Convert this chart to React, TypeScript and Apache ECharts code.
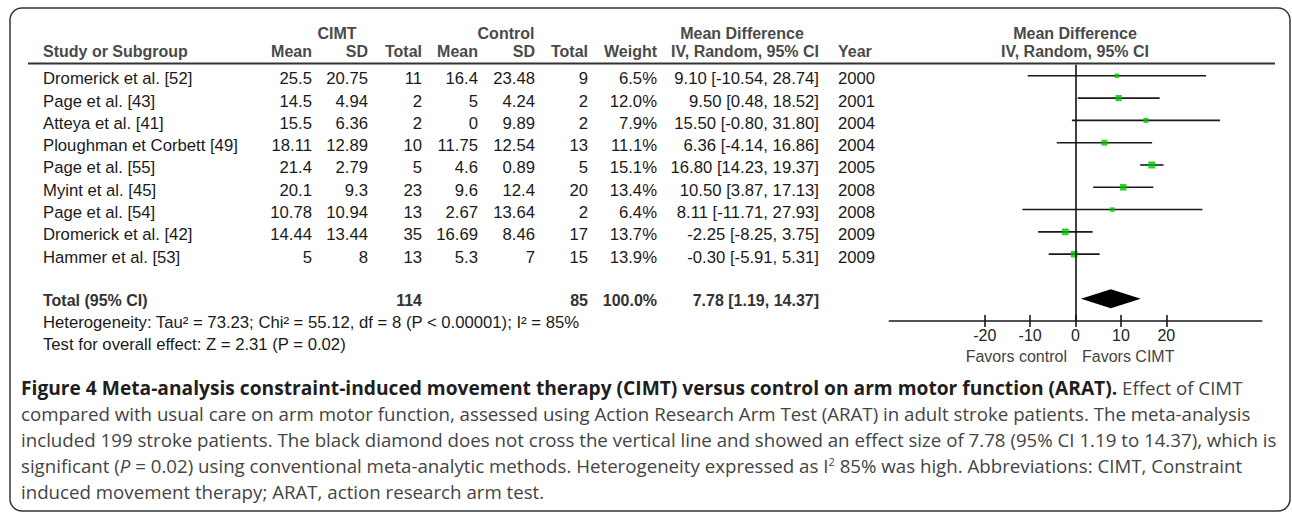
import React, { useEffect, useRef } from 'react';
import * as echarts from 'echarts';

// ---- data ----
const studies = [
  'Dromerick et al. [52]',
  'Page et al. [43]',
  'Atteya et al. [41]',
  'Ploughman et Corbett [49]',
  'Page et al. [55]',
  'Myint et al. [45]',
  'Page et al. [54]',
  'Dromerick et al. [42]',
  'Hammer et al. [53]',
];
const cimtMean = [25.5, 14.5, 15.5, 18.11, 21.4, 20.1, 10.78, 14.44, 5];
const cimtSD = [20.75, 4.94, 6.36, 12.89, 2.79, 9.3, 10.94, 13.44, 8];
const cimtTotal = [11, 2, 2, 10, 5, 23, 13, 35, 13];
const ctrlMean = [16.4, 5, 0, 11.75, 4.6, 9.6, 2.67, 16.69, 5.3];
const ctrlSD = [23.48, 4.24, 9.89, 12.54, 0.89, 12.4, 13.64, 8.46, 7];
const ctrlTotal = [9, 2, 2, 13, 5, 20, 2, 17, 15];
const weights = [6.5, 12.0, 7.9, 11.1, 15.1, 13.4, 6.4, 13.7, 13.9];
const meanDiff = [9.1, 9.5, 15.5, 6.36, 16.8, 10.5, 8.11, -2.25, -0.3];
const ciLow = [-10.54, 0.48, -0.8, -4.14, 14.23, 3.87, -11.71, -8.25, -5.91];
const ciHigh = [28.74, 18.52, 31.8, 16.86, 19.37, 17.13, 27.93, 3.75, 5.31];
const years = [2000, 2001, 2004, 2004, 2005, 2008, 2008, 2009, 2009];
const totalCimt = 114;
const totalCtrl = 85;
const totalWeight = 100.0;
const totalMD = 7.78;
const totalLow = 1.19;
const totalHigh = 14.37;
const xTicks = [-20, -10, 0, 10, 20];
const heterogeneityText = 'Heterogeneity: Tau\u00b2 = 73.23; Chi\u00b2 = 55.12, df = 8 (P < 0.00001); I\u00b2 = 85%';
const overallText = 'Test for overall effect: Z = 2.31 (P = 0.02)';
const captionLines = [
  '{b|Figure 4 Meta-analysis constraint-induced movement therapy (CIMT) versus control on arm motor function (ARAT).}{r| Effect of CIMT}',
  '{r|compared with usual care on arm motor function, assessed using Action Research Arm Test (ARAT) in adult stroke patients. The meta-analysis}',
  '{r|included 199 stroke patients. The black diamond does not cross the vertical line and showed an effect size of 7.78 (95% CI 1.19 to 14.37), which is}',
  '{r|significant (}{i|P}{r| = 0.02) using conventional meta-analytic methods. Heterogeneity expressed as I}{s|2}{r| 85% was high. Abbreviations: CIMT, Constraint}',
  '{r|induced movement therapy; ARAT, action research arm test.}',
];

// ---- layout ----
const W = 1292;
const H = 514;
const TF = '"Liberation Sans", Arial, Helvetica, sans-serif';
const CF = '"Open Sans", "Noto Sans", sans-serif';
const TOTAL_ROW = 10;
const DIAMOND_HALF = 0.43;
const DATA_FS = 16.7;
const CAP_FS = 18.7;
const CAP_BOLD_FS = 19.2;
const CAP_TOP = 387;
const CAP_STEP = 26;

const fmtCI = (m: number, l: number, h: number) => `${m.toFixed(2)} [${l.toFixed(2)}, ${h.toFixed(2)}]`;

export default function App() {
  const ref = useRef<HTMLDivElement>(null);
  useEffect(() => {
    const chart = echarts.init(ref.current!, null, { renderer: 'svg', width: W, height: H });
    const lineStyle = { color: '#1a1a1a', width: 1.6 };
    chart.setOption({
      animation: false,
      backgroundColor: '#ffffff',
      grid: { left: 889.4, top: 64.65, width: 372.3, height: 256.4, outerBoundsMode: 'none' },
      xAxis: [
        {
          type: 'value', min: -41, max: 41, position: 'bottom',
          axisLine: { show: true, onZero: false, lineStyle },
          axisTick: { show: true, length: 6, customValues: xTicks, lineStyle },
          axisLabel: { show: true, customValues: xTicks, margin: 6, fontSize: 16, fontFamily: TF, color: '#222' },
          splitLine: { show: false },
        },
        {
          type: 'value', min: -41, max: 41, position: 'bottom',
          axisLine: { show: false, onZero: false },
          axisTick: { show: true, inside: true, length: 6, customValues: xTicks, lineStyle },
          axisLabel: { show: false },
          splitLine: { show: false },
        },
      ],
      yAxis: { type: 'value', inverse: true, min: -0.5, max: 11, show: false },
      series: [
        {
          type: 'custom',
          name: 'ci',
          silent: true,
          encode: { x: [0, 1], y: 2 },
          data: studies.map((_, i) => [ciLow[i], ciHigh[i], i]),
          renderItem: (params: any, api: any) => {
            const a = api.coord([api.value(0), api.value(2)]);
            const b = api.coord([api.value(1), api.value(2)]);
            return {
              type: 'line',
              shape: { x1: a[0], y1: a[1], x2: b[0], y2: b[1] },
              style: { stroke: '#1a1a1a', lineWidth: 1.6 },
            };
          },
          markLine: {
            silent: true,
            symbol: ['none', 'none'],
            label: { show: false },
            lineStyle: { color: '#111', width: 1.6, type: 'solid' },
            data: [{ xAxis: 0 }],
          },
          z: 2,
        },
        {
          type: 'scatter',
          name: 'weight',
          silent: true,
          symbol: 'rect',
          symbolSize: (v: number[]) => 1.8 * Math.sqrt(v[2]),
          itemStyle: { color: '#00c400' },
          data: studies.map((_, i) => [meanDiff[i], i, weights[i]]),
          z: 3,
        },
        {
          type: 'custom',
          name: 'total',
          silent: true,
          encode: { x: [0, 1, 2], y: 3 },
          data: [[totalLow, totalMD, totalHigh, TOTAL_ROW]],
          renderItem: (params: any, api: any) => {
            const lo = api.coord([api.value(0), api.value(3)]);
            const mid = api.coord([api.value(1), api.value(3)]);
            const hi = api.coord([api.value(2), api.value(3)]);
            const h = api.size([0, DIAMOND_HALF])[1];
            return {
              type: 'polygon',
              shape: { points: [[lo[0], lo[1]], [mid[0], mid[1] - h], [hi[0], hi[1]], [mid[0], mid[1] + h]] },
              style: { fill: '#000' },
            };
          },
          z: 3,
        },
      ],
    });

    const rowY = (i: number) => (chart.convertToPixel({ yAxisIndex: 0 } as any, i) as unknown as number) + 3;
    const els: any[] = [];
    const txt = (x: number, y: number, text: string, align: string, opts: any = {}) => {
      els.push({
        type: 'text', x, y, silent: true,
        style: {
          text, align, verticalAlign: 'middle', textAlign: align, textVerticalAlign: 'middle',
          fontFamily: TF, fontSize: DATA_FS, fill: '#1a1a1a', ...opts,
        },
      });
    };
    const hdr = { fontWeight: 'bold', fill: '#4a4a4a', fontSize: 16 };
    // frame
    els.push({ type: 'rect', silent: true, shape: { x: 10, y: 8, width: 1280, height: 503, r: 12 }, style: { fill: 'none', stroke: '#333', lineWidth: 1.5 } });
    // headers
    txt(337, 33, 'CIMT', 'center', hdr);
    txt(506, 33, 'Control', 'center', hdr);
    txt(742, 33, 'Mean Difference', 'center', hdr);
    txt(1075, 33, 'Mean Difference', 'center', hdr);
    const h2 = 51;
    txt(43, h2, 'Study or Subgroup', 'left', hdr);
    txt(312, h2, 'Mean', 'right', hdr);
    txt(368, h2, 'SD', 'right', hdr);
    txt(422, h2, 'Total', 'right', hdr);
    txt(478, h2, 'Mean', 'right', hdr);
    txt(535, h2, 'SD', 'right', hdr);
    txt(588, h2, 'Total', 'right', hdr);
    txt(657, h2, 'Weight', 'right', hdr);
    txt(819, h2, 'IV, Random, 95% CI', 'right', hdr);
    txt(838, h2, 'Year', 'left', hdr);
    txt(1075, h2, 'IV, Random, 95% CI', 'center', hdr);
    els.push({ type: 'line', silent: true, shape: { x1: 28, y1: 63.5, x2: 1275, y2: 63.5 }, style: { stroke: '#333', lineWidth: 2 } });
    // rows
    studies.forEach((s, i) => {
      const y = rowY(i);
      txt(43, y, s, 'left');
      txt(312, y, String(cimtMean[i]), 'right');
      txt(368, y, String(cimtSD[i]), 'right');
      txt(422, y, String(cimtTotal[i]), 'right');
      txt(478, y, String(ctrlMean[i]), 'right');
      txt(535, y, String(ctrlSD[i]), 'right');
      txt(588, y, String(ctrlTotal[i]), 'right');
      txt(657, y, weights[i].toFixed(1) + '%', 'right');
      txt(819, y, fmtCI(meanDiff[i], ciLow[i], ciHigh[i]), 'right');
      txt(838, y, String(years[i]), 'left');
    });
    const ty = rowY(TOTAL_ROW) - 1;
    const tot = { fontWeight: 'bold', fill: '#333', fontSize: 16 };
    txt(43, ty, 'Total (95% CI)', 'left', tot);
    txt(422, ty, String(totalCimt), 'right', tot);
    txt(588, ty, String(totalCtrl), 'right', tot);
    txt(657, ty, totalWeight.toFixed(1) + '%', 'right', tot);
    txt(819, ty, fmtCI(totalMD, totalLow, totalHigh), 'right', tot);
    txt(43, ty + 22, heterogeneityText, 'left');
    txt(43, ty + 44, overallText, 'left');
    // favors
    txt(1067, 356, 'Favors control', 'right', { fill: '#444', fontSize: 16 });
    txt(1082, 356, 'Favors CIMT', 'left', { fill: '#444', fontSize: 16 });
    // caption
    captionLines.forEach((line, k) => {
      els.push({
        type: 'text', x: 21, y: CAP_TOP + k * CAP_STEP, silent: true,
        style: {
          text: line, align: 'left', verticalAlign: 'middle', textAlign: 'left', textVerticalAlign: 'middle',
          fontFamily: CF, fontSize: CAP_FS, fill: '#444',
          rich: {
            b: { fontFamily: CF, fontSize: CAP_BOLD_FS, fontWeight: 'bold', fill: '#1e1e1e', color: '#1e1e1e' },
            r: { fontFamily: CF, fontSize: CAP_FS, fill: '#444', color: '#444' },
            i: { fontFamily: CF, fontSize: CAP_FS, fontStyle: 'italic', fill: '#444', color: '#444' },
            s: { fontFamily: CF, fontSize: 11, fill: '#444', color: '#444', verticalAlign: 'top' },
          },
        },
      });
    });
    chart.setOption({ graphic: { elements: els } });
    return () => chart.dispose();
  }, []);
  return <div ref={ref} style={{ position: 'absolute', left: 0, top: 0, width: W, height: H }} />;
}
